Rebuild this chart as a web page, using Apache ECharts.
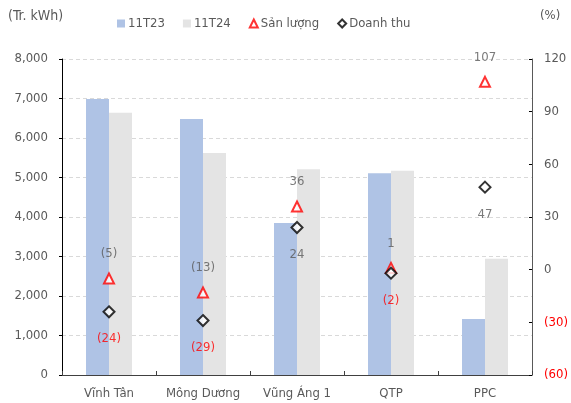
<!DOCTYPE html>
<html>
<head>
    <meta charset="utf-8">
    <title>ECharts</title>
    <script src="https://cdn.jsdelivr.net/npm/echarts@6/dist/echarts.min.js"></script>
    <style>
        body { margin: 0; background: #fff; }
    </style>
</head>
<body>
<div id="main" style="width: 571px;height:403px;"></div>
<script type="text/javascript">
    // du lieu
    var categories = ['Vĩnh Tân', 'Mông Dương', 'Vũng Áng 1', 'QTP', 'PPC'];
    var bar11T23 = [6990, 6480, 3850, 5110, 1420];
    var bar11T24 = [6640, 5620, 5210, 5170, 2940];
    var sanLuong = [-5, -13, 36, 1, 107];
    var doanhThu = [-24, -29, 24, -2, 47];

    var FONT = '"DejaVu Sans Condensed", "DejaVu Sans"';
    var GREY = '#595959';

    function fmt(v) {
        return v < 0 ? '(' + Math.abs(v) + ')' : String(v);
    }

    var myChart = echarts.init(document.getElementById('main'));

    var option = {
        animation: false,
        textStyle: { fontFamily: FONT },
        grid: { left: 62, right: 35, top: 59, bottom: 28 },
        legend: {
            top: 12,
            left: 112,
            itemGap: 18,
            itemWidth: 8,
            itemHeight: 8,
            textStyle: { fontFamily: FONT, fontSize: 13, color: GREY, padding: [0, 0, 0, -2] },
            data: [
                { name: '11T23', icon: 'rect' },
                { name: '11T24', icon: 'rect' },
                { name: 'Sản lượng', icon: 'triangle', itemStyle: { color: '#fff', borderColor: '#ff0000', borderWidth: 2 } },
                { name: 'Doanh thu', icon: 'diamond', itemStyle: { color: '#fff', borderColor: '#000', borderWidth: 2 } }
            ]
        },
        graphic: [
            { type: 'text', left: 8, top: 9, style: { text: '(Tr. kWh)', font: '14px ' + FONT, fill: GREY } },
            { type: 'text', left: 540, top: 9, style: { text: '(%)', font: '13px ' + FONT, fill: GREY } }
        ],
        xAxis: {
            type: 'category',
            data: categories,
            axisLine: { lineStyle: { color: '#404040', width: 1 } },
            axisTick: { show: true, inside: true, length: 4, lineStyle: { color: '#404040' } },
            axisLabel: { color: GREY, fontSize: 13, margin: 12, fontFamily: FONT, interval: 0 }
        },
        yAxis: [
            {
                type: 'value',
                min: 0, max: 8000, interval: 1000,
                axisLine: { show: true, lineStyle: { color: '#000' } },
                axisTick: { show: true, length: 3, lineStyle: { color: '#000' } },
                axisLabel: {
                    color: GREY, fontSize: 13, margin: 14, fontFamily: FONT,
                    formatter: function (v) { return v.toLocaleString('en-US'); }
                },
                splitLine: { lineStyle: { color: '#d9d9d9', type: [4, 3] } }
            },
            {
                type: 'value',
                min: -60, max: 120, interval: 30,
                axisLine: { show: true, lineStyle: { color: '#595959' } },
                axisTick: { show: true, inside: true, length: 3, lineStyle: { color: '#000' } },
                axisLabel: {
                    fontSize: 13, margin: 12, fontFamily: FONT,
                    formatter: fmt,
                    color: function (v) { return v < 0 ? '#ff0000' : GREY; }
                },
                splitLine: { show: false }
            }
        ],
        series: [
            {
                name: '11T23', type: 'bar', data: bar11T23,
                barWidth: 23, barGap: '0%',
                itemStyle: { color: '#afc3e5' }
            },
            {
                name: '11T24', type: 'bar', data: bar11T24,
                barWidth: 23,
                itemStyle: { color: '#e4e4e4' }
            },
            {
                name: 'Sản lượng', type: 'scatter', yAxisIndex: 1, data: sanLuong,
                symbol: 'triangle', symbolSize: 10,
                itemStyle: { color: '#fff', borderColor: '#ff0000', borderWidth: 2 },
                label: {
                    show: true, position: 'top', distance: 12,
                    color: GREY, fontSize: 13, fontFamily: FONT,
                    formatter: function (p) { return fmt(p.value); }
                },
                z: 5
            },
            {
                name: 'Doanh thu', type: 'scatter', yAxisIndex: 1, data: doanhThu,
                symbol: 'diamond', symbolSize: 11,
                itemStyle: { color: '#fff', borderColor: '#000', borderWidth: 2 },
                label: {
                    show: true, position: 'bottom', distance: 14,
                    fontSize: 13, fontFamily: FONT,
                    formatter: function (p) { return fmt(p.value); },
                    color: GREY
                },
                z: 6
            }
        ]
    };

    // mau do cho nhan am cua doanh thu
    option.series[3].data = doanhThu.map(function (v) {
        return { value: v, label: { color: v < 0 ? '#ff0000' : GREY } };
    });

    myChart.setOption(option);
</script>
</body>
</html>
